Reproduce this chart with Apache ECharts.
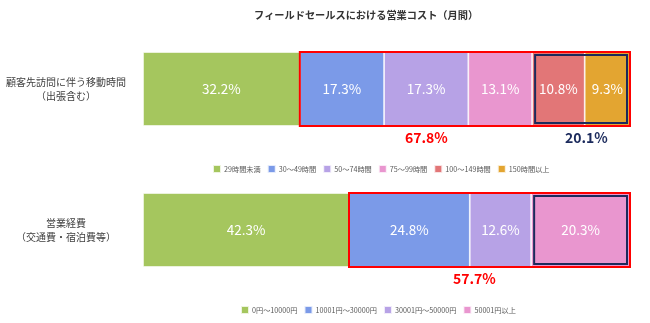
<!DOCTYPE html>
<html><head><meta charset="utf-8">
<script src="https://cdn.jsdelivr.net/npm/echarts@6/dist/echarts.min.js"></script>
<style>html,body{margin:0;padding:0;background:#fff}#c{width:650px;height:323px}</style>
</head><body><div id="c"></div>
<script>
const title = 'フィールドセールスにおける営業コスト（月間）';
const cat1 = ['顧客先訪問に伴う移動時間\n（出張含む）'];
const cat2 = ['営業経費\n（交通費・宿泊費等）'];
const names1 = ['29時間未満','30～49時間','50～74時間','75～99時間','100～149時間','150時間以上'];
const values1 = [32.2, 17.3, 17.3, 13.1, 10.8, 9.3];
const names2 = ['0円～10000円','10001円～30000円','30001円～50000円','50001円以上'];
const values2 = [42.3, 24.8, 12.6, 20.3];
const colors1 = ['#a5c65e','#7b9ae8','#b7a2e6','#e996cf','#e27677','#e3a531'];
const colors2 = ['#a5c65e','#7b9ae8','#b7a2e6','#e996cf'];
// annotation boxes: [start segment index, end segment index (inclusive), label, kind]
const boxes1 = [[1,5,'67.8%','red'],[4,5,'20.1%','navy']];
const boxes2 = [[1,3,'57.7%','red'],[3,3,'','navy']];

const FONT = '"Noto Sans CJK JP", "Noto Sans", sans-serif';
const chart = echarts.init(document.getElementById('c'));

function cum(vals, i){ let s=0; for(let k=0;k<i;k++) s+=vals[k]; return s; }

function barSeries(names, vals, colors, idx){
  return names.map((n,i)=>({
    name:n, type:'bar', stack:'s'+idx, xAxisIndex:idx, yAxisIndex:idx,
    barWidth:'100%', data:[vals[i]],
    itemStyle:{color:colors[i], borderColor:'rgba(255,255,255,0.8)', borderWidth:0.8},
    label:{show:true, position:'inside', color:'#fff', fontSize:13.5, fontFamily:FONT,
      formatter:p=>p.value.toFixed(1)+'%'},
    emphasis:{disabled:true}, animation:false
  }));
}
function boxSeries(boxes, vals, idx){
  return {
    type:'custom', xAxisIndex:idx, yAxisIndex:idx, silent:true, animation:false, z:10,
    data: boxes.map(b=>[cum(vals,b[0]), cum(vals,b[1]+1), 0, b[3]==='red'?1:0]),
    renderItem:(params, api)=>{
      const s = api.coord([api.value(0), 0]);
      const e = api.coord([api.value(1), 0]);
      const h = api.size([0,1])[1];
      const red = api.value(3)===1;
      const inset = red ? 0 : 3;
      return {type:'rect', shape:{x:s[0]+inset, y:s[1]-h/2+inset, width:e[0]-s[0]-2*inset, height:h-2*inset},
        style:{fill:'none', stroke: red?'#ff0000':'#1b2a5c', lineWidth:2}};
    }
  };
}
const legendText = {fontSize:7.2, color:'#595959', fontFamily:FONT, padding:[0,0,0,-2]};

chart.setOption({
  animation:false,
  title:{text:title, left:249, top:5, textStyle:{fontSize:10.2, fontWeight:'bold', color:'#333', fontFamily:FONT}},
  grid:[{left:143, right:20, top:52, height:74},{left:143, right:20, top:193, height:74}],
  xAxis:[0,1].map(i=>({type:'value', gridIndex:i, min:0, max:100, show:false})),
  yAxis:[cat1,cat2].map((c,i)=>({type:'category', gridIndex:i, data:c, axisLine:{show:false}, axisTick:{show:false},
    axisLabel:{align:'center', margin:77, fontSize:10, color:'#404040', fontFamily:FONT, lineHeight:14}})),
  legend:[
    {data:names1, left:207, top:159, itemWidth:8, itemHeight:8, itemGap:6, icon:'rect', textStyle:legendText},
    {data:names2, left:235, top:300, itemWidth:8, itemHeight:8, itemGap:6, icon:'rect', textStyle:legendText}
  ],
  series:[...barSeries(names1, values1, colors1, 0), boxSeries(boxes1, values1, 0),
          ...barSeries(names2, values2, colors2, 1), boxSeries(boxes2, values2, 1)],
  graphic:[
    {type:'text', left:405, top:131, style:{text:boxes1[0][2], fill:'#ff0000', font:'bold 14px '+FONT}},
    {type:'text', left:565, top:131, style:{text:boxes1[1][2], fill:'#1b2a5c', font:'bold 14px '+FONT}},
    {type:'text', left:453, top:272, style:{text:boxes2[0][2], fill:'#ff0000', font:'bold 14px '+FONT}}
  ]
});
</script></body></html>
